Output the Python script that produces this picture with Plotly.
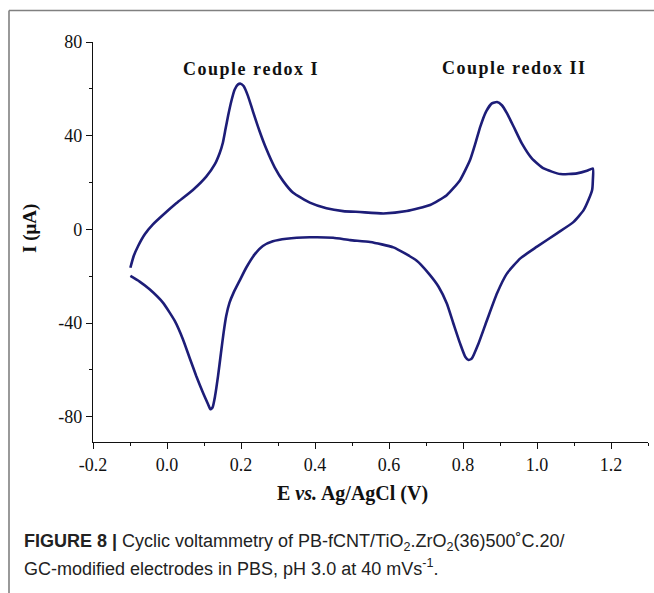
import plotly.graph_objects as go

# Cyclic voltammogram: forward (anodic) sweep from -0.1 V to 1.15 V, then reverse sweep back
potential_V = [
    # forward sweep
    -0.099, -0.090, -0.078, -0.060, -0.038, -0.011, 0.025, 0.070, 0.106, 0.129,
    0.142, 0.151, 0.158, 0.165, 0.174, 0.183, 0.192, 0.199, 0.207, 0.219,
    0.232, 0.250, 0.268, 0.291, 0.314, 0.341, 0.386, 0.431, 0.476, 0.521,
    0.585, 0.648, 0.711, 0.756, 0.792, 0.819, 0.833, 0.847, 0.862, 0.878,
    0.892, 0.905, 0.919, 0.937, 0.959, 0.986, 1.018, 1.063, 1.108, 1.135,
    1.151,
    # reverse sweep
    1.151, 1.149, 1.139, 1.126, 1.099, 1.054, 1.000, 0.955, 0.919, 0.892,
    0.865, 0.842, 0.824, 0.815, 0.806, 0.792, 0.774, 0.756, 0.734, 0.707,
    0.675, 0.612, 0.549, 0.495, 0.449, 0.386, 0.323, 0.286, 0.259, 0.237,
    0.214, 0.196, 0.180, 0.169, 0.160, 0.153, 0.146, 0.138, 0.130, 0.123,
    0.117, 0.111, 0.097, 0.079, 0.061, 0.043, 0.021, -0.011, -0.047, -0.074,
    -0.099,
]
current_uA = [
    # forward sweep
    -16.4, -11.4, -7.1, -2.1, 2.1, 6.1, 11.1, 16.8, 22.5, 27.7,
    32.4, 37.0, 42.7, 48.4, 54.8, 59.7, 61.9, 62.2, 61.2, 56.9,
    50.5, 42.0, 34.5, 26.5, 20.6, 15.6, 11.4, 9.0, 7.8, 7.4,
    6.8, 7.8, 10.4, 14.6, 21.0, 29.6, 36.5, 44.0, 50.2, 53.8,
    54.4, 53.0, 49.5, 43.8, 36.7, 30.3, 26.0, 23.6, 23.9, 25.0,
    26.0,
    # reverse sweep
    21.1, 16.8, 12.5, 8.2, 3.2, -1.7, -7.4, -12.4, -18.8, -27.3,
    -38.7, -48.7, -55.1, -55.8, -54.4, -48.7, -40.2, -31.6, -24.5, -18.8,
    -13.4, -7.7, -5.4, -4.6, -3.6, -3.4, -4.0, -5.1, -7.1, -10.7,
    -16.4, -22.0, -27.0, -31.3, -37.0, -44.1, -52.6, -62.6, -71.1, -76.1,
    -76.8, -74.7, -69.7, -62.6, -54.8, -46.9, -39.1, -31.3, -25.6, -22.3,
    -19.9,
]

x_ticks = [-0.2, 0.0, 0.2, 0.4, 0.6, 0.8, 1.0, 1.2]
x_tick_labels = ["-0.2", "0.0", "0.2", "0.4", "0.6", "0.8", "1.0", "1.2"]
x_minor_ticks = [-0.1, 0.1, 0.3, 0.5, 0.7, 0.9, 1.1, 1.3]
y_ticks = [-80, -40, 0, 40, 80]
y_tick_labels = ["-80", "-40", "0", "40", "80"]
y_minor_ticks = [-60, -20, 20, 60]

peak_labels = ["Couple redox I", "Couple redox II"]
peak_label_E = [0.225, 0.937]
peak_label_I = [68.3, 68.7]

caption_line1 = ("<b>FIGURE 8 |</b> Cyclic voltammetry of PB-fCNT/TiO<sub>2</sub>."
                 "ZrO<sub>2</sub>(36)500˚C.20/")
caption_line2 = "GC-modified electrodes in PBS, pH 3.0 at 40 mVs<sup>-1</sup>."

W, H = 654, 593
ML, MR, MT, MB = 93, 6, 42, 151
PW, PH = W - ML - MR, H - MT - MB


def px_x(px):
    return (px - ML) / PW


def px_y(py):
    return (H - MB - py) / PH


serif = "Liberation Serif"
sans = "Liberation Sans"
curve_color = "#1d1d78"


def spaced(s):
    return "\u200a".join(s)


fig = go.Figure()
fig.add_trace(go.Scatter(
    x=potential_V, y=current_uA, mode="lines",
    line=dict(color=curve_color, width=2.6, shape="spline", smoothing=0.5),
    showlegend=False, hoverinfo="skip",
))

for label, e, i in zip(peak_labels, peak_label_E, peak_label_I):
    fig.add_annotation(x=e, y=i, xref="x", yref="y", text="<b>" + spaced(label) + "</b>",
                       showarrow=False, font=dict(family=serif, size=18, color="#111"))

axis_common = dict(
    showline=True, linecolor="#111", linewidth=1.4, ticks="outside",
    tickcolor="#111", tickwidth=1.2, ticklen=6, showgrid=False, zeroline=False,
    tickfont=dict(family=serif, size=18, color="#111"), tickmode="array",
)
fig.update_xaxes(
    range=[-0.2, 1.3], tickvals=x_ticks, ticktext=x_tick_labels,
    minor=dict(tickvals=x_minor_ticks, ticklen=3, ticks="outside", tickcolor="#111", tickwidth=1.2),
    **axis_common,
)
fig.update_yaxes(
    range=[-90.8, 80], tickvals=y_ticks, ticktext=y_tick_labels,
    minor=dict(tickvals=y_minor_ticks, ticklen=3, ticks="outside", tickcolor="#111", tickwidth=1.2),
    **axis_common,
)

# axis titles
fig.add_annotation(x=px_x(352), y=px_y(494), xref="paper", yref="paper",
                   xanchor="center", yanchor="middle",
                   text="<b>E <i>vs.</i> Ag/AgCl (V)</b>", showarrow=False,
                   font=dict(family=serif, size=20, color="#111"))
fig.add_annotation(x=px_x(30), y=px_y(229), xref="paper", yref="paper",
                   xanchor="center", yanchor="middle",
                   text="<b>I (μA)</b>", textangle=-90, showarrow=False,
                   font=dict(family=serif, size=19, color="#111"))

# caption
fig.add_annotation(x=px_x(22), y=px_y(542), xref="paper", yref="paper",
                   xanchor="left", yanchor="middle",
                   text=caption_line1, showarrow=False, align="left",
                   font=dict(family=sans, size=18, color="#222"))
fig.add_annotation(x=px_x(22), y=px_y(567), xref="paper", yref="paper",
                   xanchor="left", yanchor="middle",
                   text=caption_line2, showarrow=False, align="left",
                   font=dict(family=sans, size=18, color="#222"))

# outer frame (top and left edges)
fig.add_shape(type="line", xref="paper", yref="paper",
              x0=px_x(9), x1=px_x(W), y0=px_y(10.5), y1=px_y(10.5),
              line=dict(color="#808080", width=1.6))
fig.add_shape(type="line", xref="paper", yref="paper",
              x0=px_x(9), x1=px_x(9), y0=px_y(10.5), y1=px_y(H),
              line=dict(color="#808080", width=1.6))

fig.update_layout(
    width=W, height=H, margin=dict(l=ML, r=MR, t=MT, b=MB),
    paper_bgcolor="white", plot_bgcolor="white",
)

fig.write_html("out.html")
